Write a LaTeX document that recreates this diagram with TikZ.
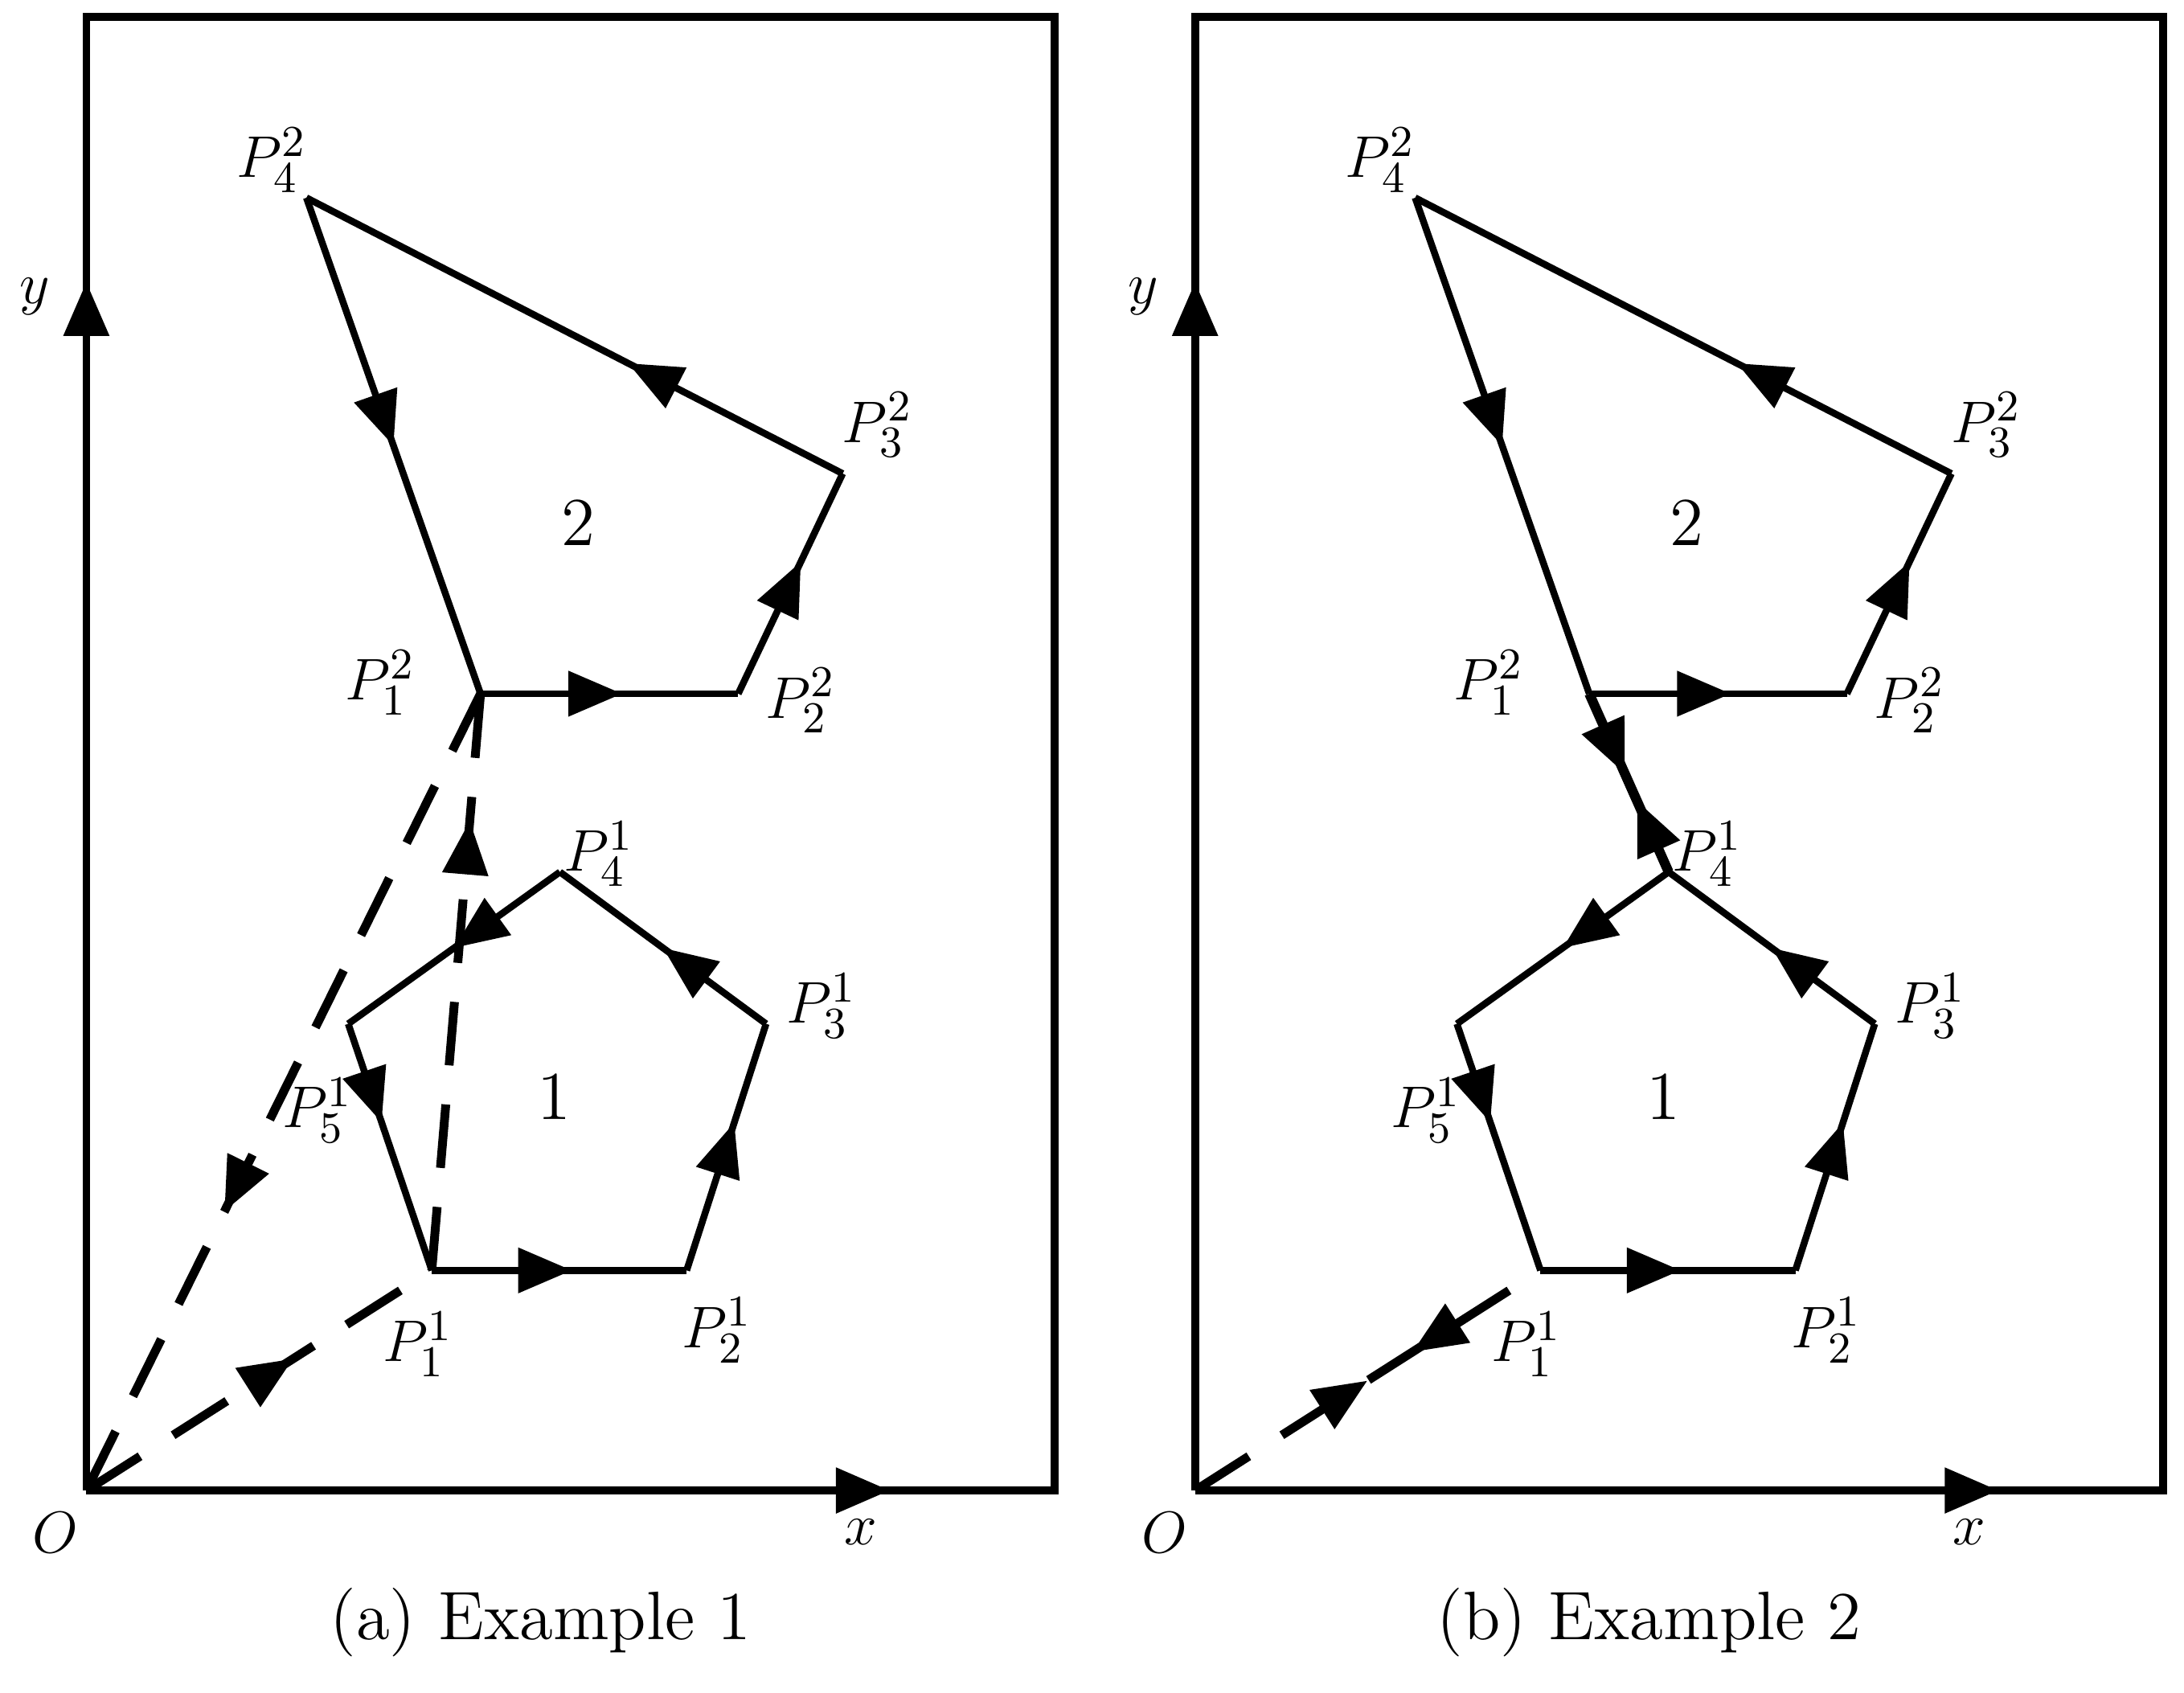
\documentclass[tikz,border=0pt]{standalone}
\usetikzlibrary{arrows.meta,decorations.markings}
\tikzset{
  frame/.style={line width=1.6pt},
  edge/.style={line width=1.4pt},
  path/.style={line width=1.8pt,dash pattern=on 13pt off 8pt},
  tip/.style={postaction={decorate,decoration={markings,
      mark=at position #1 with {\arrow{Triangle[length=11pt,width=9pt]}}}}},
  rtip/.style={postaction={decorate,decoration={markings,
      mark=at position #1 with {\arrowreversed{Triangle[length=11pt,width=9pt]}}}}},
  lab/.style={font=\fontsize{13}{15}\selectfont\itshape},
  num/.style={font=\fontsize{14}{16}\selectfont}
}
\begin{document}
\begin{tikzpicture}[x=0.01cm,y=-0.01cm]
\useasboundingbox (0,0) rectangle (1568,1215);
\foreach \dx/\cap in {0/(a) Example 1,796/(b) Example 2}{
\begin{scope}[xshift=\dx*0.01cm]
  % frame and axes
  \coordinate (O) at (62,1070);
  \coordinate (TL) at (62,12);
  \coordinate (BR) at (757,1070);
  \coordinate (TR) at (757,12);
  \draw[frame] (O) -- (TL) -- (TR) -- (BR) -- (O);
  \draw[frame,tip=0.82] (O) -- (TL);
  \draw[frame,tip=0.83] (O) -- (BR);
  % polygon 2
  \coordinate (Q1) at (345,498);
  \coordinate (Q2) at (530,498);
  \coordinate (Q3) at (605,340);
  \coordinate (Q4) at (220,142);
  \draw[edge,tip=0.55] (Q1) -- (Q2);
  \draw[edge,tip=0.6] (Q2) -- (Q3);
  \draw[edge,tip=0.4] (Q3) -- (Q4);
  \draw[edge,tip=0.5] (Q4) -- (Q1);
  % polygon 1
  \coordinate (R1) at (310,912);
  \coordinate (R2) at (493,912);
  \coordinate (R3) at (550,735);
  \coordinate (R4) at (402,626);
  \coordinate (R5) at (250,735);
  \draw[edge,tip=0.55] (R1) -- (R2);
  \draw[edge,tip=0.6] (R2) -- (R3);
  \draw[edge,tip=0.5] (R3) -- (R4);
  \draw[edge,tip=0.5] (R4) -- (R5);
  \draw[edge,tip=0.4] (R5) -- (R1);
  % labels
  \node[lab] at (195,115) {$P_4^2$};
  \node[lab] at (25,213) {$y$};
  \node[lab] at (630,305) {$P_3^2$};
  \node[num] at (415,375) {2};
  \node[lab] at (273,490) {$P_1^2$};
  \node[lab] at (575,503) {$P_2^2$};
  \node[lab] at (430,613) {$P_4^1$};
  \node[lab] at (590,722) {$P_3^1$};
  \node[num] at (398,787) {1};
  \node[lab] at (228,797) {$P_5^1$};
  \node[lab] at (515,955) {$P_2^1$};
  \node[lab] at (300,965) {$P_1^1$};
  \node[lab] at (40,1100) {$O$};
  \node[lab] at (618,1100) {$x$};
  \node[num] at (388,1165) {\cap};
\end{scope}}
% paths of example 1
\coordinate (A0) at (62,1070);
\coordinate (A1) at (310,912);
\coordinate (A2) at (345,498);
\draw[path,tip=0.6] (A0) -- (A1);
\draw[path,tip=0.78] (A1) -- (A2);
\draw[path,tip=0.65] (A2) -- (A0);
% paths of example 2
\coordinate (B0) at (858,1070);
\coordinate (B1) at (1106,912);
\coordinate (B2) at (1141,498);
\coordinate (B3) at (1198,626);
\draw[path,tip=0.5,rtip=0.63] (B0) -- (B1);
\draw[line width=2pt,tip=0.45,rtip=0.6] (B2) -- (B3);
\end{tikzpicture}
\end{document}
